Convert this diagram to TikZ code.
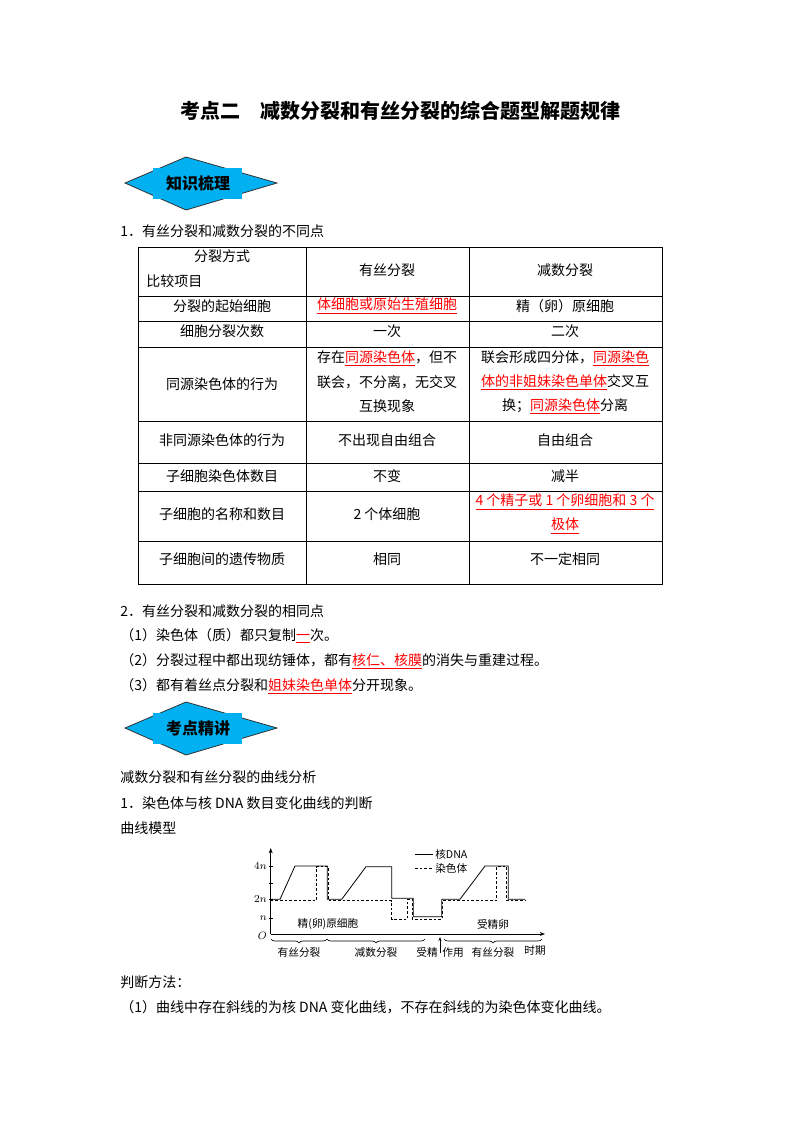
\documentclass[tikz,border=0pt]{standalone}
\usepackage{fontspec}
\setmainfont{Noto Sans CJK SC}
\usetikzlibrary{decorations.pathreplacing,arrows.meta}
\newcommand{\Rd}[1]{\textcolor{red}{\underline{#1}}}
\definecolor{bancyan}{RGB}{0,176,240}
\begin{document}
\begin{tikzpicture}[x=0.75pt,y=-0.75pt,
  txt/.style={font=\fontsize{10.5}{12}\selectfont,inner sep=0pt},
  lt/.style={txt,anchor=west},
  banner/.style={fill=bancyan,draw=black!80,line width=0.6pt},
  gl/.style={font=\fontsize{8}{9}\selectfont,inner sep=0pt},
  tb/.style={line width=0.7pt},
  dna/.style={line width=0.6pt},
  chr/.style={line width=0.6pt,dash pattern=on 2pt off 1.5pt}]
\useasboundingbox (0,0) rectangle (800,1132);
\fill[white] (0,0) rectangle (800,1132);
\node[font=\fontsize{15}{18}\selectfont\bfseries] (title) at (400,111) {考点二\quad 减数分裂和有丝分裂的综合题型解题规律};
% banners
\foreach \cy/\lab/\nm in {183/知识梳理/b1,728/考点精讲/b2}{
  \draw[banner] (125,\cy) -- (186,\cy-26) -- (277,\cy) -- (186,\cy+27) -- cycle;
  \fill[bancyan] (153,\cy-15) rectangle (242,\cy+16);
  \node[font=\fontsize{12}{14}\selectfont\bfseries] (\nm) at (198,\cy) {\lab};
}
\node[lt] (s1) at (120,231) {1．有丝分裂和减数分裂的不同点};
% table
\draw[tb] (138,247) rectangle (662,584);
\foreach \yy in {296,321,347,421,463,491,541} \draw[tb] (138,\yy) -- (662,\yy);
\draw[tb] (306,247) -- (306,584);
\draw[tb] (469,247) -- (469,584);
\node[txt] (h1) at (222,256) {分裂方式};
\node[lt] (h2) at (146,281) {比较项目};
\node[txt] (h3) at (387,270) {有丝分裂};
\node[txt] (h4) at (565,270) {减数分裂};
\node[txt] (r1a) at (222,306) {分裂的起始细胞};
\node[txt] (r1b) at (387,306) {\Rd{体细胞或原始生殖细胞}};
\node[txt] (r1c) at (565,306) {精（卵）原细胞};
\node[txt] (r2a) at (222,331) {细胞分裂次数};
\node[txt] (r2b) at (387,331) {一次};
\node[txt] (r2c) at (565,331) {二次};
\node[txt] (r3a) at (222,384) {同源染色体的行为};
\node[txt] (r3b1) at (387,358) {存在\Rd{同源染色体}，但不};
\node[txt] (r3b2) at (387,382) {联会，不分离，无交叉};
\node[txt] (r3b3) at (387,406) {互换现象};
\node[txt] (r3c1) at (565,358) {联会形成四分体，\Rd{同源染色}};
\node[txt] (r3c2) at (565,382) {\Rd{体的非姐妹染色单体}交叉互};
\node[txt] (r3c3) at (565,406) {换；\Rd{同源染色体}分离};
\node[txt] (r4a) at (222,440) {非同源染色体的行为};
\node[txt] (r4b) at (387,440) {不出现自由组合};
\node[txt] (r4c) at (565,440) {自由组合};
\node[txt] (r5a) at (222,476) {子细胞染色体数目};
\node[txt] (r5b) at (387,476) {不变};
\node[txt] (r5c) at (565,476) {减半};
\node[txt] (r6a) at (222,514) {子细胞的名称和数目};
\node[txt] (r6b) at (387,514) {2 个体细胞};
\node[txt] (r6c1) at (565,502) {\Rd{4 个精子或 1 个卵细胞和 3 个}};
\node[txt] (r6c2) at (565,526) {\Rd{极体}};
\node[txt] (r7a) at (222,559) {子细胞间的遗传物质};
\node[txt] (r7b) at (387,559) {相同};
\node[txt] (r7c) at (565,559) {不一定相同};
% section 2
\node[lt] (s2) at (120,611) {2．有丝分裂和减数分裂的相同点};
\node[lt] (s2a) at (120,636) {（1）染色体（质）都只复制\Rd{一}次。};
\node[lt] (s2b) at (120,661) {（2）分裂过程中都出现纺锤体，都有\Rd{核仁、核膜}的消失与重建过程。};
\node[lt] (s2c) at (120,686) {（3）都有着丝点分裂和\Rd{姐妹染色单体}分开现象。};
\node[lt] (s3) at (120,777) {减数分裂和有丝分裂的曲线分析};
\node[lt] (s3a) at (120,803) {1．染色体与核 DNA 数目变化曲线的判断};
\node[lt] (s3b) at (120,828) {曲线模型};
\node[lt] (s4) at (120,982) {判断方法：};
\node[lt] (s4a) at (120,1007) {（1）曲线中存在斜线的为核 DNA 变化曲线，不存在斜线的为染色体变化曲线。};
% graph
\coordinate (O) at (270.7,934);
\coordinate (ytop) at (270.7,848);
\coordinate (xend) at (545,934);
\draw[-{Stealth[length=4pt]},line width=0.6pt] (O) -- (ytop);
\draw[-{Stealth[length=4pt]},line width=0.6pt] (O) -- (xend);
\foreach \yy in {866,883,899,918} \draw[line width=0.5pt] (268.5,\yy) -- (272.5,\yy);
\node[gl,anchor=east] (l4n) at (267,866) {$4n$};
\node[gl,anchor=east] (l2n) at (267,899) {$2n$};
\node[gl,anchor=east] (ln) at (267,918) {$n$};
\node[gl,anchor=east] (lO) at (267,936) {$O$};
\draw[dna] (270.7,899.3) -- (280,899.3) -- (295,866) -- (327.3,866) -- (327.3,899.3) -- (341.7,899.3) -- (366,866.7) -- (391.7,866.7) -- (391.7,898.3) -- (413.3,898.3) -- (413.3,916.7) -- (441.7,916.7) -- (441.7,899.3) -- (460,899.3) -- (485,866) -- (508.3,866) -- (508.3,899.3) -- (525,899.3);
\draw[chr] (270.7,900.8) -- (316.7,900.8) -- (316.7,866.7) -- (328.3,866.7) -- (328.3,900.8) -- (391.7,900.8) -- (391.7,919) -- (407.7,919) -- (407.7,899) -- (412.3,899) -- (412.3,919) -- (442.3,919) -- (442.3,900.8) -- (496.7,900.8) -- (496.7,866.7) -- (506.7,866.7) -- (506.7,900.8) -- (525,900.8);
\draw[dna] (415,854.5) -- (433,854.5);
\node[gl,anchor=west] (lg1) at (435,854.5) {核DNA};
\draw[chr] (415,868) -- (433,868);
\node[gl,anchor=west] (lg2) at (435,868) {染色体};
\node[gl] (g1) at (328,924) {精(卵)原细胞};
\node[gl] (g2) at (493,924) {受精卵};
\draw[decorate,decoration={brace,mirror,amplitude=3pt},line width=0.5pt] (271,939) -- (327,939);
\draw[decorate,decoration={brace,mirror,amplitude=3pt},line width=0.5pt] (327,939) -- (425,939);
\draw[decorate,decoration={brace,mirror,amplitude=3pt},line width=0.5pt] (444,939) -- (542,939);
\coordinate (fa) at (440,953);
\coordinate (fb) at (440,937);
\draw[-{Stealth[length=3pt]},line width=0.5pt] (fa) -- (fb);
\node[gl] (x1) at (299,952) {有丝分裂};
\node[gl] (x2) at (376,952) {减数分裂};
\node[gl] (x3) at (427,952) {受精};
\node[gl] (x4) at (453,952) {作用};
\node[gl] (x5) at (493,952) {有丝分裂};
\node[gl] (x6) at (535,950) {时期};
\end{tikzpicture}
\end{document}
